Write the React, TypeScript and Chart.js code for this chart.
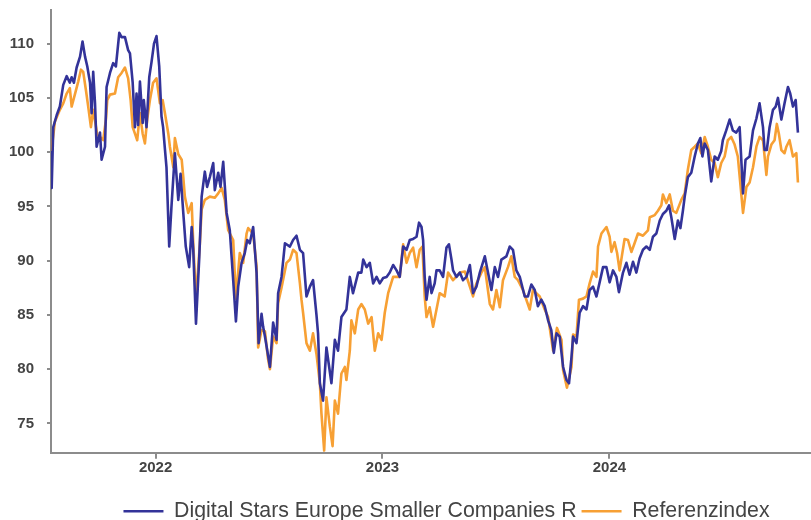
import React, { useEffect, useRef } from "react";
import { Chart, registerables } from "chart.js";

Chart.register(...registerables);

// Time given as decimal years
const fundDates = [
  2021.539, 2021.542, 2021.549, 2021.564, 2021.578, 2021.593, 2021.608, 2021.622, 2021.630, 2021.640,
  2021.652, 2021.667, 2021.678, 2021.689, 2021.699, 2021.711, 2021.718, 2021.725, 2021.733, 2021.740,
  2021.755, 2021.762, 2021.777, 2021.784, 2021.799, 2021.813, 2021.825, 2021.840, 2021.850, 2021.865,
  2021.879, 2021.887, 2021.899, 2021.909, 2021.916, 2021.923, 2021.931, 2021.943, 2021.948, 2021.960,
  2021.972, 2021.982, 2021.993, 2022.004, 2022.016, 2022.026, 2022.033, 2022.041, 2022.048, 2022.060,
  2022.070, 2022.085, 2022.100, 2022.110, 2022.122, 2022.133, 2022.148, 2022.159, 2022.166, 2022.178,
  2022.192, 2022.203, 2022.217, 2022.227, 2022.239, 2022.254, 2022.261, 2022.276, 2022.286, 2022.298,
  2022.313, 2022.327, 2022.342, 2022.354, 2022.364, 2022.379, 2022.393, 2022.404, 2022.415, 2022.430,
  2022.445, 2022.454, 2022.467, 2022.474, 2022.482, 2022.504, 2022.518, 2022.533, 2022.540, 2022.555,
  2022.570, 2022.592, 2022.606, 2022.621, 2022.636, 2022.650, 2022.665, 2022.680, 2022.694, 2022.709,
  2022.716, 2022.724, 2022.738, 2022.753, 2022.775, 2022.790, 2022.804, 2022.819, 2022.841, 2022.856,
  2022.870, 2022.893, 2022.907, 2022.915, 2022.930, 2022.944, 2022.959, 2022.974, 2022.988, 2023.003,
  2023.018, 2023.032, 2023.047, 2023.062, 2023.076, 2023.091, 2023.106, 2023.120, 2023.135, 2023.150,
  2023.161, 2023.172, 2023.179, 2023.186, 2023.194, 2023.208, 2023.216, 2023.230, 2023.238, 2023.252,
  2023.267, 2023.282, 2023.293, 2023.304, 2023.311, 2023.326, 2023.341, 2023.355, 2023.370, 2023.385,
  2023.399, 2023.414, 2023.429, 2023.451, 2023.465, 2023.480, 2023.495, 2023.509, 2023.524, 2023.546,
  2023.561, 2023.575, 2023.590, 2023.605, 2023.627, 2023.641, 2023.656, 2023.671, 2023.685, 2023.700,
  2023.715, 2023.730, 2023.744, 2023.755, 2023.767, 2023.781, 2023.796, 2023.811, 2023.822, 2023.833,
  2023.840, 2023.855, 2023.869, 2023.884, 2023.899, 2023.913, 2023.928, 2023.943, 2023.957, 2023.972,
  2023.987, 2024.001, 2024.016, 2024.031, 2024.042, 2024.060, 2024.075, 2024.089, 2024.104, 2024.119,
  2024.133, 2024.148, 2024.163, 2024.178, 2024.192, 2024.207, 2024.222, 2024.236, 2024.251, 2024.263,
  2024.273, 2024.288, 2024.302, 2024.313, 2024.324, 2024.332, 2024.346, 2024.361, 2024.376, 2024.390,
  2024.401, 2024.410, 2024.420, 2024.434, 2024.449, 2024.464, 2024.478, 2024.493, 2024.500, 2024.515,
  2024.530, 2024.544, 2024.559, 2024.574, 2024.589, 2024.600, 2024.618, 2024.633, 2024.648, 2024.662,
  2024.677, 2024.684, 2024.694, 2024.706, 2024.721, 2024.733, 2024.743, 2024.758, 2024.772, 2024.787,
  2024.797, 2024.809, 2024.821, 2024.831,
];

const fundValues = [
  100.0, 96.7, 102.3, 103.4, 104.2, 106.2, 107.0, 106.4, 106.9, 106.4,
  107.8, 108.8, 110.2, 108.8, 107.9, 106.4, 103.6, 107.4, 104.5, 100.5,
  101.8, 99.3, 100.5, 106.0, 107.3, 108.2, 107.9, 111.0, 110.6, 110.6,
  109.4, 109.1, 106.4, 102.3, 105.4, 102.5, 106.5, 102.7, 104.8, 102.3,
  106.9, 108.3, 110.0, 110.7, 107.9, 103.3, 102.3, 100.3, 98.6, 91.3,
  95.0, 99.9, 95.6, 98.0, 94.4, 91.3, 89.4, 93.1, 91.0, 84.2,
  90.1, 95.9, 98.2, 96.8, 97.7, 99.0, 96.5, 98.1, 96.8, 99.1,
  94.4, 92.8, 88.2, 84.4, 87.6, 89.8, 90.7, 91.9, 91.6, 93.1,
  88.9, 82.4, 85.1, 83.9, 83.0, 80.2, 84.3, 82.7, 87.0, 88.5,
  91.6, 91.3, 91.9, 92.3, 91.0, 90.7, 86.7, 87.6, 88.2, 85.0,
  83.3, 78.7, 77.1, 82.0, 78.7, 82.7, 81.7, 84.8, 85.5, 88.5,
  87.0, 88.9, 88.9, 90.1, 89.4, 89.8, 87.9, 88.5, 87.9, 88.4,
  88.5, 88.9, 89.6, 89.1, 88.5, 91.3, 91.0, 91.9, 92.0, 92.2,
  93.5, 93.1, 91.9, 88.5, 86.4, 88.5, 87.0, 87.9, 89.1, 89.1,
  88.5, 91.2, 91.5, 90.1, 89.1, 88.5, 88.9, 88.2, 88.5, 89.6,
  87.0, 87.6, 88.9, 90.4, 88.9, 87.3, 89.4, 88.5, 90.1, 90.4,
  91.3, 91.0, 89.1, 88.5, 86.7, 86.7, 87.8, 87.3, 85.8, 86.4,
  85.8, 84.5, 83.6, 81.5, 83.3, 83.0, 80.2, 79.0, 78.7, 81.1,
  83.0, 82.4, 85.2, 85.8, 85.5, 87.3, 87.6, 86.7, 88.0, 89.4,
  89.4, 88.0, 89.1, 88.5, 87.1, 88.9, 89.8, 88.7, 89.9, 88.9,
  90.2, 91.0, 91.3, 91.0, 92.2, 92.5, 93.7, 94.3, 94.6, 95.1,
  94.0, 92.0, 93.7, 93.0, 94.6, 95.9, 97.7, 98.1, 99.6, 100.8,
  101.3, 99.6, 100.8, 100.2, 97.3, 99.6, 99.3, 100.1, 101.1, 102.0,
  103.0, 102.0, 101.8, 102.3, 96.2, 99.3, 99.6, 102.0, 103.1, 104.5,
  102.3, 100.2, 100.2, 102.3, 103.9, 104.2, 105.0, 103.0, 104.5, 106.0,
  105.4, 104.2, 104.8, 101.8,
];

const refDates = [
  2021.539, 2021.549, 2021.556, 2021.578, 2021.593, 2021.608, 2021.622, 2021.630, 2021.644, 2021.659,
  2021.671, 2021.681, 2021.693, 2021.703, 2021.715, 2021.725, 2021.743, 2021.755, 2021.769, 2021.781,
  2021.787, 2021.799, 2021.821, 2021.835, 2021.850, 2021.865, 2021.879, 2021.890, 2021.899, 2021.909,
  2021.919, 2021.931, 2021.943, 2021.953, 2021.963, 2021.975, 2021.989, 2022.004, 2022.019, 2022.031,
  2022.041, 2022.056, 2022.063, 2022.078, 2022.085, 2022.100, 2022.115, 2022.122, 2022.129, 2022.144,
  2022.159, 2022.166, 2022.178, 2022.195, 2022.203, 2022.217, 2022.239, 2022.261, 2022.276, 2022.291,
  2022.305, 2022.320, 2022.342, 2022.354, 2022.371, 2022.386, 2022.401, 2022.408, 2022.430, 2022.445,
  2022.452, 2022.467, 2022.482, 2022.495, 2022.504, 2022.518, 2022.533, 2022.540, 2022.555, 2022.577,
  2022.592, 2022.606, 2022.621, 2022.636, 2022.643, 2022.650, 2022.665, 2022.680, 2022.694, 2022.709,
  2022.724, 2022.731, 2022.743, 2022.753, 2022.768, 2022.780, 2022.790, 2022.804, 2022.819, 2022.834,
  2022.841, 2022.856, 2022.863, 2022.878, 2022.893, 2022.907, 2022.922, 2022.937, 2022.952, 2022.966,
  2022.981, 2022.996, 2023.010, 2023.025, 2023.047, 2023.076, 2023.091, 2023.106, 2023.120, 2023.135,
  2023.150, 2023.164, 2023.176, 2023.186, 2023.194, 2023.208, 2023.223, 2023.238, 2023.252, 2023.274,
  2023.289, 2023.311, 2023.341, 2023.363, 2023.385, 2023.399, 2023.414, 2023.436, 2023.451, 2023.473,
  2023.487, 2023.502, 2023.517, 2023.531, 2023.553, 2023.568, 2023.583, 2023.597, 2023.619, 2023.634,
  2023.649, 2023.663, 2023.693, 2023.715, 2023.730, 2023.752, 2023.769, 2023.789, 2023.796, 2023.813,
  2023.833, 2023.840, 2023.855, 2023.866, 2023.884, 2023.899, 2023.913, 2023.928, 2023.943, 2023.950,
  2023.965, 2023.987, 2024.001, 2024.009, 2024.023, 2024.034, 2024.045, 2024.067, 2024.082, 2024.097,
  2024.111, 2024.126, 2024.148, 2024.170, 2024.178, 2024.200, 2024.214, 2024.229, 2024.236, 2024.251,
  2024.266, 2024.280, 2024.295, 2024.317, 2024.332, 2024.346, 2024.361, 2024.376, 2024.390, 2024.405,
  2024.420, 2024.434, 2024.449, 2024.464, 2024.478, 2024.493, 2024.508, 2024.522, 2024.537, 2024.552,
  2024.566, 2024.589, 2024.604, 2024.618, 2024.633, 2024.648, 2024.662, 2024.677, 2024.692, 2024.699,
  2024.714, 2024.728, 2024.738, 2024.747, 2024.758, 2024.772, 2024.780, 2024.794, 2024.809, 2024.824,
  2024.831,
];

const refValues = [
  99.8, 101.5, 102.8, 103.9, 104.5, 105.4, 105.9, 104.2, 105.3, 106.5,
  107.6, 107.4, 105.7, 104.2, 102.3, 103.9, 101.6, 101.4, 101.1, 103.0,
  104.8, 105.3, 105.4, 106.9, 107.3, 107.8, 106.8, 104.8, 102.3, 101.7,
  101.1, 103.6, 101.7, 100.8, 103.0, 104.8, 106.4, 106.8, 104.5, 104.8,
  103.6, 101.7, 100.5, 98.6, 101.3, 99.8, 99.3, 97.7, 95.9, 94.4,
  95.3, 91.6, 86.5, 91.5, 94.7, 95.6, 95.9, 95.8, 96.2, 96.7,
  95.6, 92.8, 91.9, 86.5, 90.7, 89.8, 92.5, 93.0, 92.5, 89.5,
  82.0, 83.6, 83.5, 81.0, 80.0, 83.0, 82.4, 86.1, 87.5, 89.8,
  90.1, 91.0, 90.7, 87.9, 86.4, 85.2, 82.4, 81.7, 83.3, 81.4,
  78.7, 75.9, 72.5, 77.4, 74.7, 72.9, 77.1, 75.9, 79.6, 80.2,
  79.0, 81.7, 84.5, 83.3, 85.5, 86.0, 85.5, 84.2, 84.8, 81.7,
  83.3, 82.7, 85.2, 87.0, 88.5, 88.5, 91.5, 89.8, 90.7, 91.2,
  89.4, 91.0, 91.3, 86.7, 84.8, 85.7, 83.9, 85.5, 87.0, 86.7,
  88.9, 88.2, 88.9, 89.0, 87.6, 86.7, 87.9, 88.9, 89.4, 86.0,
  85.5, 87.3, 85.7, 88.2, 89.4, 90.4, 88.5, 88.2, 87.3, 86.4,
  85.5, 87.3, 86.7, 85.5, 84.8, 81.7, 83.8, 82.7, 79.9, 78.3,
  80.2, 83.2, 83.0, 86.4, 86.5, 86.7, 87.9, 89.0, 88.5, 91.3,
  92.5, 93.1, 92.2, 90.8, 91.7, 90.7, 89.1, 92.0, 91.9, 90.8,
  91.6, 92.5, 92.3, 92.8, 94.0, 94.2, 94.6, 95.1, 96.1, 95.3,
  96.1, 94.6, 94.4, 95.6, 96.2, 98.4, 100.2, 100.5, 100.8, 99.9,
  101.4, 100.5, 99.3, 99.0, 97.7, 99.0, 99.6, 101.1, 101.4, 100.7,
  99.6, 94.4, 96.8, 97.2, 98.6, 100.5, 101.4, 101.1, 97.9, 99.6,
  100.7, 101.1, 102.6, 101.7, 100.2, 99.9, 100.5, 101.1, 99.6, 99.9,
  97.2,
];

const seriesNames = ["Digital Stars Europe Smaller Companies R", "Referenzindex"];
const yearTicks = [2022, 2023, 2024];
const valueTicks = [75, 80, 85, 90, 95, 100, 105, 110];
const xRange = [2021.539, 2025.25];
const yRange = [72.3, 113.1];

const FONT = "'Liberation Sans', Arial, Helvetica, sans-serif";
const AXIS = "#8c8c8c";
const TEXT = "#444444";

export default function App() {
  const ref = useRef<HTMLCanvasElement | null>(null);

  useEffect(() => {
    if (!ref.current) return;
    const chart = new Chart(ref.current, {
      type: "line",
      data: {
        datasets: [
          {
            label: seriesNames[0],
            data: fundDates.map((d, i) => ({ x: d, y: fundValues[i] })),
            borderColor: "#333399",
            backgroundColor: "#333399",
            borderWidth: 2.6,
            pointRadius: 0,
            pointStyle: "line",
            pointBorderWidth: 2.5,
            tension: 0,
            borderJoinStyle: "round",
          },
          {
            label: seriesNames[1],
            data: refDates.map((d, i) => ({ x: d, y: refValues[i] })),
            borderColor: "#f7a034",
            backgroundColor: "#f7a034",
            borderWidth: 2.6,
            pointRadius: 0,
            pointStyle: "line",
            pointBorderWidth: 2.5,
            tension: 0,
            borderJoinStyle: "round",
          },
        ],
      },
      options: {
        responsive: false,
        devicePixelRatio: 1,
        animation: false,
        layout: { padding: { top: 10, left: 0, right: 19, bottom: 0 } },
        plugins: {
          tooltip: { enabled: false },
          legend: {
            display: true,
            position: "bottom",
            labels: {
              usePointStyle: true,
              pointStyleWidth: 40,
              padding: 5,
              color: TEXT,
              font: { family: FONT, size: 21.3 },
            },
          },
        },
        scales: {
          x: {
            type: "linear",
            min: xRange[0],
            max: xRange[1],
            afterBuildTicks: (s: any) => {
              s.ticks = yearTicks.map((v) => ({ value: v }));
            },
            afterFit: (s: any) => {
              s.height = 43;
            },
            ticks: {
              callback: (v: any) => String(v),
              autoSkip: false,
              maxRotation: 0,
              padding: 0,
              color: TEXT,
              font: { family: FONT, size: 15, weight: "bold" },
            },
            grid: {
              drawOnChartArea: false,
              drawTicks: true,
              tickLength: 6,
              color: AXIS,
              lineWidth: 2,
            },
            border: { display: true, color: AXIS, width: 2 },
          },
          y: {
            type: "linear",
            min: yRange[0],
            max: yRange[1],
            afterBuildTicks: (s: any) => {
              s.ticks = valueTicks.map((v) => ({ value: v }));
            },
            afterFit: (s: any) => {
              s.width = 51;
              s.paddingTop = 0;
              s.paddingBottom = 0;
            },
            ticks: {
              padding: 13,
              color: TEXT,
              font: { family: FONT, size: 15, weight: "bold" },
            },
            grid: {
              drawOnChartArea: false,
              drawTicks: true,
              tickLength: 4,
              color: AXIS,
              lineWidth: 2,
            },
            border: { display: true, color: AXIS, width: 2 },
          },
        },
      },
    });
    return () => chart.destroy();
  }, []);

  return (
    <div
      style={{
        position: "fixed",
        left: 0,
        top: 0,
        width: 811,
        height: 520,
        overflow: "hidden",
        background: "#ffffff",
      }}
    >
      <canvas
        ref={ref}
        width={912}
        height={532}
        style={{ display: "block", width: 912, height: 532 }}
      />
    </div>
  );
}
